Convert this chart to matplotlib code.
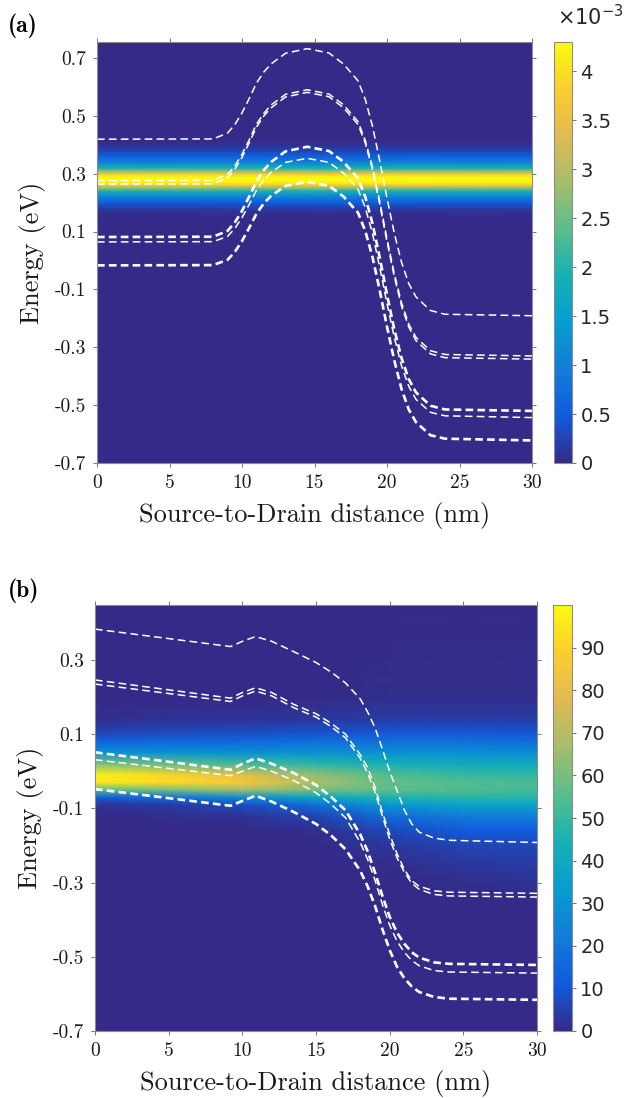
import numpy as np
import matplotlib
matplotlib.use('Agg')
import matplotlib.pyplot as plt
from matplotlib.colors import LinearSegmentedColormap

plt.rcParams['font.family'] = 'cmr10'
plt.rcParams['axes.unicode_minus'] = False
plt.rcParams['mathtext.fontset'] = 'cm'

# parula-like colormap (a few samples of the MATLAB map)
parula_rgb = [(0.2081, 0.1663, 0.5292), (0.0591, 0.3598, 0.8683), (0.0723, 0.4887, 0.8467),
              (0.0265, 0.6137, 0.8135), (0.0843, 0.6928, 0.7062), (0.3482, 0.7424, 0.5473),
              (0.6473, 0.7456, 0.4188), (0.8824, 0.7274, 0.3217), (0.9880, 0.8066, 0.1794),
              (0.9763, 0.9831, 0.0538)]
parula = LinearSegmentedColormap.from_list('parula', parula_rgb)

# ---------------- panel (a) ----------------
# energy resolved current (x1e-3), same along the whole channel
ea_energy = [-0.70, 0.14, 0.16, 0.18, 0.20, 0.22, 0.24, 0.25, 0.26, 0.27, 0.28,
             0.29, 0.30, 0.31, 0.32, 0.34, 0.36, 0.38, 0.40, 0.42, 0.75]
ea_current = [0, 0, 0.04, 0.18, 0.5, 1.0, 1.9, 2.7, 3.6, 4.2, 4.3,
              4.2, 3.6, 2.7, 1.9, 1.0, 0.55, 0.25, 0.08, 0.01, 0]
xa_map = [0, 30]

# subband profiles (eV)
xa = [0, 8, 9, 9.5, 10, 10.5, 11, 11.5, 12, 13, 14.5, 16, 17, 18, 18.5, 19, 19.5,
      20, 20.5, 21, 21.5, 22, 23, 24, 30]
a_sub1 = [0.419, 0.420, 0.440, 0.469, 0.510, 0.560, 0.613, 0.651, 0.679, 0.716, 0.732,
          0.717, 0.679, 0.621, 0.557, 0.464, 0.344, 0.215, 0.095, -0.006, -0.080,
          -0.126, -0.173, -0.186, -0.191]
a_sub2 = [0.276, 0.277, 0.297, 0.326, 0.367, 0.417, 0.471, 0.508, 0.537, 0.574, 0.590,
          0.575, 0.538, 0.480, 0.415, 0.323, 0.204, 0.075, -0.045, -0.146, -0.220,
          -0.266, -0.312, -0.325, -0.330]
a_sub3 = [0.264, 0.265, 0.285, 0.315, 0.356, 0.407, 0.461, 0.499, 0.527, 0.565, 0.581,
          0.566, 0.528, 0.470, 0.406, 0.314, 0.194, 0.065, -0.055, -0.157, -0.230,
          -0.277, -0.323, -0.336, -0.341]
a_sub4 = [0.081, 0.082, 0.102, 0.131, 0.171, 0.221, 0.274, 0.312, 0.340, 0.377, 0.393,
          0.378, 0.341, 0.283, 0.220, 0.128, 0.010, -0.118, -0.237, -0.337, -0.410,
          -0.456, -0.502, -0.515, -0.520]
a_sub5 = [0.064, 0.065, 0.083, 0.110, 0.148, 0.194, 0.243, 0.278, 0.304, 0.339, 0.353,
          0.339, 0.302, 0.246, 0.183, 0.093, -0.024, -0.149, -0.265, -0.364, -0.435,
          -0.480, -0.525, -0.537, -0.543]
a_sub6 = [-0.017, -0.016, 0.002, 0.029, 0.067, 0.113, 0.162, 0.197, 0.223, 0.258, 0.272,
          0.258, 0.221, 0.165, 0.102, 0.012, -0.104, -0.229, -0.345, -0.444, -0.515,
          -0.559, -0.604, -0.616, -0.622]

# ---------------- panel (b) ----------------
eb_energy = [-0.70, -0.36, -0.30, -0.25, -0.20, -0.16, -0.12, -0.09, -0.07, -0.05,
             -0.03, -0.01, 0.02, 0.05, 0.08, 0.11, 0.14, 0.20, 0.45]
xb_map = [0, 5, 10, 15, 20, 25, 30]
jb_x0 = [0, 0, 0, 0, 0, 0, 0, 2, 12, 55, 95, 98, 62, 30, 14, 5, 1, 0, 0]
jb_x5 = [0, 0, 0, 0, 0, 0, 1, 4, 18, 60, 92, 90, 57, 30, 15, 6, 2, 0, 0]
jb_x10 = [0, 0, 0, 0, 0, 0, 2, 8, 28, 66, 86, 80, 52, 30, 16, 7, 2, 0, 0]
jb_x15 = [0, 0, 0, 0, 0, 1, 6, 18, 38, 60, 68, 64, 48, 30, 17, 8, 3, 0, 0]
jb_x20 = [0, 0, 0, 1, 3, 7, 17, 32, 46, 56, 57, 54, 44, 30, 18, 9, 4, 1, 0]
jb_x25 = [0, 0, 1, 3, 6, 11, 22, 37, 48, 54, 54, 50, 41, 29, 18, 9, 4, 1, 0]
jb_x30 = [0, 0, 2, 4, 7, 12, 23, 37, 47, 52, 53, 49, 40, 28, 17, 9, 4, 1, 0]

xb = [0, 9.2, 10, 10.9, 12, 13.5, 15, 16, 17, 18, 18.5, 19, 19.5, 20, 20.5, 21, 21.5,
      22, 23, 24, 30]
b_sub1 = [0.383, 0.336, 0.350, 0.363, 0.350, 0.322, 0.293, 0.268, 0.238, 0.195, 0.160,
          0.118, 0.060, 0.000, -0.052, -0.105, -0.142, -0.164, -0.180, -0.186, -0.192]
b_sub2 = [0.246, 0.197, 0.212, 0.225, 0.212, 0.180, 0.155, 0.130, 0.100, 0.045, 0.010,
          -0.042, -0.110, -0.170, -0.222, -0.265, -0.295, -0.310, -0.322, -0.326, -0.329]
b_sub3 = [0.235, 0.188, 0.203, 0.216, 0.203, 0.171, 0.146, 0.121, 0.090, 0.035, -0.005,
          -0.055, -0.120, -0.183, -0.233, -0.272, -0.302, -0.318, -0.332, -0.336, -0.339]
b_sub4 = [0.051, 0.004, 0.020, 0.035, 0.020, -0.005, -0.037, -0.068, -0.105, -0.170,
          -0.215, -0.272, -0.335, -0.392, -0.435, -0.465, -0.488, -0.502, -0.515, -0.519, -0.522]
b_sub5 = [0.031, -0.012, 0.000, 0.013, 0.000, -0.025, -0.058, -0.088, -0.125, -0.192,
          -0.237, -0.293, -0.358, -0.415, -0.458, -0.488, -0.510, -0.524, -0.537, -0.541, -0.544]
b_sub6 = [-0.048, -0.093, -0.080, -0.066, -0.082, -0.110, -0.142, -0.172, -0.210, -0.268,
          -0.310, -0.362, -0.425, -0.482, -0.527, -0.558, -0.580, -0.595, -0.608, -0.613, -0.616]

W, H = 632, 1098
fig = plt.figure(figsize=(W / 100, H / 100), dpi=100)


def box(l, t, r, b):
    return [l / W, 1 - b / H, (r - l) / W, (b - t) / H]


def style_axes(ax, yticks, ylim):
    ax.set_xlim(0, 30)
    ax.set_ylim(*ylim)
    ax.set_xticks([0, 5, 10, 15, 20, 25, 30])
    ax.set_xticklabels(['0', '5', '10', '15', '20', '25', '30'])
    ax.set_yticks(yticks)
    ax.set_yticklabels(['%.1f' % v for v in yticks])
    ax.tick_params(direction='out', length=3, width=0.7, color='0.45', top=True, right=True,
                   labelsize=14, labelcolor='0.1', pad=5)
    for s in ax.spines.values():
        s.set_color('0.55')
        s.set_linewidth(0.8)
    ax.set_xlabel('Source-to-Drain distance (nm)', fontsize=19, color='0.1', labelpad=7)
    ax.set_ylabel('Energy (eV)', fontsize=19, color='0.1', labelpad=6)


def style_cbar(cax, ticks, labels):
    cax.set_yticks(ticks)
    cax.set_yticklabels(labels, family='DejaVu Sans')
    cax.tick_params(direction='out', length=3, width=0.7, color='0.45', labelsize=14,
                    labelcolor='0.15', pad=3)
    for s in cax.spines.values():
        s.set_color('0.55')
        s.set_linewidth(0.8)


dash_thin = dict(color='white', lw=1.1, dashes=(5.0, 2.8))
dash_thick = dict(color='white', lw=1.9, dashes=(2.9, 1.6))

# ---- panel (a)
ax1 = fig.add_axes(box(97, 42, 532, 463))
za = np.column_stack([ea_current, ea_current])
m1 = ax1.pcolormesh(xa_map, ea_energy, za, shading='gouraud', cmap=parula, vmin=0, vmax=4.3)
ax1.plot(xa, a_sub1, **dash_thin)
ax1.plot(xa, a_sub2, **dash_thin)
ax1.plot(xa, a_sub3, **dash_thin)
ax1.plot(xa, a_sub4, **dash_thick)
ax1.plot(xa, a_sub5, **dash_thin)
ax1.plot(xa, a_sub6, **dash_thick)
style_axes(ax1, [-0.7, -0.5, -0.3, -0.1, 0.1, 0.3, 0.5, 0.7], (-0.7, 0.755))

cax1 = fig.add_axes(box(554, 42, 572, 463))
fig.colorbar(m1, cax=cax1)
style_cbar(cax1, [0, 0.5, 1, 1.5, 2, 2.5, 3, 3.5, 4],
           ['0', '0.5', '1', '1.5', '2', '2.5', '3', '3.5', '4'])
fig.text(557 / W, 1 - 17 / H, r'$\times10^{-3}$', fontsize=15, color='0.15',
         math_fontfamily='dejavusans', va='center', ha='left')
fig.text(8 / W, 1 - 26 / H, '(a)', family='cmb10', fontsize=17, va='center', ha='left')

# ---- panel (b)
ax2 = fig.add_axes(box(95, 605, 537, 1031))
zb = np.column_stack([jb_x0, jb_x5, jb_x10, jb_x15, jb_x20, jb_x25, jb_x30])
m2 = ax2.pcolormesh(xb_map, eb_energy, zb, shading='gouraud', cmap=parula, vmin=0, vmax=100)
ax2.plot(xb, b_sub1, **dash_thin)
ax2.plot(xb, b_sub2, **dash_thin)
ax2.plot(xb, b_sub3, **dash_thin)
ax2.plot(xb, b_sub4, **dash_thick)
ax2.plot(xb, b_sub5, **dash_thin)
ax2.plot(xb, b_sub6, **dash_thick)
style_axes(ax2, [-0.7, -0.5, -0.3, -0.1, 0.1, 0.3], (-0.7, 0.448))

cax2 = fig.add_axes(box(553, 605, 572, 1031))
fig.colorbar(m2, cax=cax2)
style_cbar(cax2, [0, 10, 20, 30, 40, 50, 60, 70, 80, 90],
           ['0', '10', '20', '30', '40', '50', '60', '70', '80', '90'])
fig.text(8 / W, 1 - 591 / H, '(b)', family='cmb10', fontsize=17, va='center', ha='left')

fig.savefig('out.png', dpi=100)
